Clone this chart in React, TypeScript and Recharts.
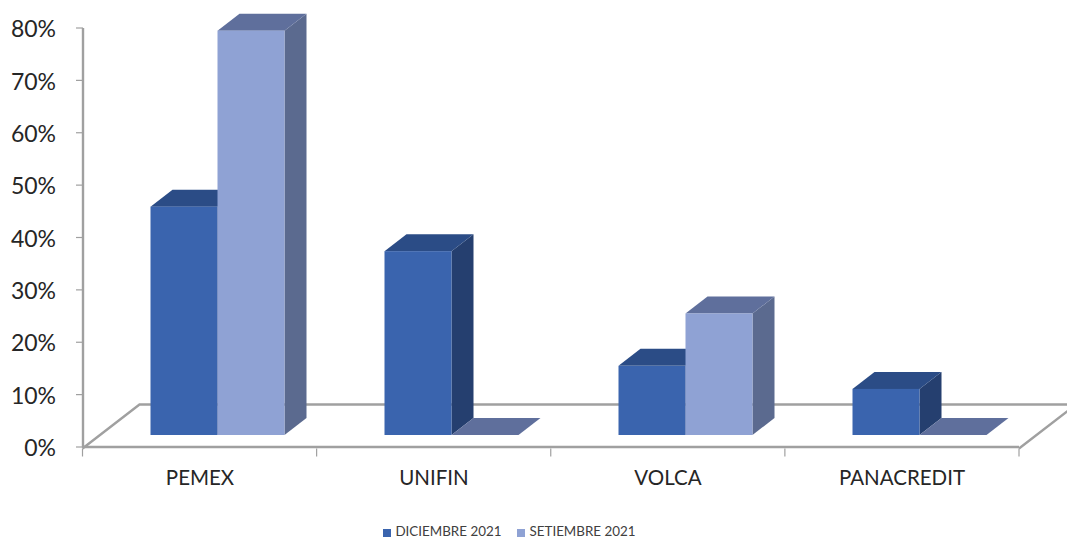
import { BarChart, Bar, XAxis, YAxis, Legend } from 'recharts';

const categories = ['PEMEX', 'UNIFIN', 'VOLCA', 'PANACREDIT'];
const diciembre = [43.6, 35.1, 13.2, 8.8];
const setiembre = [77.2, 0, 23.2, 0];
const yTicks = [0, 10, 20, 30, 40, 50, 60, 70, 80];

const chartData = categories.map((name, i) => ({
  name,
  diciembre: diciembre[i],
  setiembre: setiembre[i],
}));

const WIDTH = 1067;
const HEIGHT = 537;
const PLOT_LEFT = 83;
const PLOT_RIGHT = 1019;
const PLOT_BOTTOM = 448;
const GREY = '#a0a0a0';
const FONT = 'Lato, Carlito, sans-serif';

// fake 3D: the boxes stand mid-way on the floor
const DEPTH_X = 22;
const DEPTH_Y = 17;
const SHIFT_X = 17.5;
const SHIFT_Y = 12;

function Box({ x, y, width, height, front, top, side }: any) {
  const l = x + SHIFT_X;
  const r = l + width;
  const t = y - SHIFT_Y;
  const b = t + height;
  const dx = DEPTH_X;
  const dy = DEPTH_Y;
  return (
    <g>
      <polygon points={`${r},${t} ${r + dx},${t - dy} ${r + dx},${b - dy} ${r},${b}`} fill={side} />
      <polygon
        points={`${l},${t} ${l + dx},${t - dy} ${r + dx},${t - dy} ${r},${t}`}
        fill={top}
      />
      {height > 0 && <rect x={l} y={t} width={width} height={height} fill={front} />}
    </g>
  );
}

function Floor() {
  const left = PLOT_LEFT - 0.5;
  const right = PLOT_RIGHT;
  const bottom = PLOT_BOTTOM + 0.5;
  const step = (right - left) / categories.length;
  const backY = bottom - 44;
  return (
    <g fill="none" stroke={GREY}>
      <path
        d={`M${left},${bottom} L${left + 57},${backY} L${right + 57},${backY} L${right},${bottom}`}
        strokeWidth={2.4}
      />
      {categories.concat('').map((_, i) => (
        <line
          key={i}
          x1={left + step * i}
          x2={left + step * i}
          y1={bottom}
          y2={bottom + 8}
          strokeWidth={1.2}
        />
      ))}
    </g>
  );
}

export default function App() {
  return (
    <div style={{ position: 'absolute', left: 0, top: 0, width: WIDTH, height: HEIGHT, background: '#fff' }}>
      <BarChart
        width={WIDTH}
        height={HEIGHT}
        data={chartData}
        margin={{ top: 28, right: WIDTH - PLOT_RIGHT, bottom: 14, left: 0 }}
        barGap={0}
        barSize={67}
      >
        <Floor />
        <XAxis
          dataKey="name"
          height={60}
          axisLine={{ stroke: GREY, strokeWidth: 2.4 }}
          tickLine={false}
          tickMargin={17}
          tick={{ fontSize: 20.5, fill: '#262626', fontFamily: FONT }}
        />
        <YAxis
          width={PLOT_LEFT}
          domain={[0, 80]}
          ticks={yTicks}
          interval={0}
          tickFormatter={(v) => `${v}%`}
          axisLine={{ stroke: GREY, strokeWidth: 2.4 }}
          tickLine={{ stroke: GREY, strokeWidth: 1.2 }}
          tickSize={7}
          tickMargin={20}
          tick={{ fontSize: 23, fill: '#262626', fontFamily: FONT, dy: 1 }}
        />
        <Legend
          verticalAlign="bottom"
          iconType="square"
          iconSize={8}
          wrapperStyle={{ bottom: -2, left: -16, width: WIDTH, fontSize: 13.4, fontFamily: FONT }}
          formatter={(value) => <span style={{ color: '#404040', marginRight: 6 }}>{value}</span>}
        />
        <Bar
          dataKey="diciembre"
          name="DICIEMBRE 2021"
          fill="#3a64ae"
          isAnimationActive={false}
          shape={(p: any) => <Box {...p} front="#3a64ae" top="#2b4c86" side="#253f6f" />}
        />
        <Bar
          dataKey="setiembre"
          name="SETIEMBRE 2021"
          fill="#8fa2d4"
          isAnimationActive={false}
          shape={(p: any) => <Box {...p} front="#8fa2d4" top="#5f6f9c" side="#5b6a8f" />}
        />
      </BarChart>
    </div>
  );
}
